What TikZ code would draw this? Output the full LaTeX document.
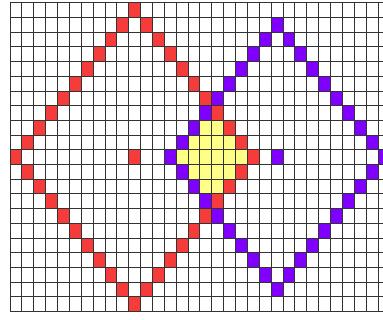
\documentclass[tikz,border=0pt]{standalone}
\usepackage{tikz}
\definecolor{dred}{HTML}{F63B3B}
\definecolor{dpur}{HTML}{7F00FF}
\definecolor{dyel}{HTML}{FFFF88}
\definecolor{gridc}{HTML}{333333}
\tikzset{
  gridline/.style={draw=gridc, line width=0.9pt},
  redcell/.style={fill=dred},
  purcell/.style={fill=dpur},
  yelcell/.style={fill=dyel},
}
\newcommand{\cw}{11.87}
\newcommand{\ch}{14.71}
\newcommand{\gx}{10}
\newcommand{\gy}{2.7}
\newcommand{\cellat}[3]{\fill[#1] ({\gx+\cw*#2},{\gy+\ch*#3}) rectangle ++(\cw,\ch);}
\begin{document}
\begin{tikzpicture}[x=1pt,y=-1pt]
\useasboundingbox (0,0) rectangle (383,320);
\clip (0,0) rectangle (383,320);
\fill[white] (0,0) rectangle (383,320);
\foreach \x in {0,...,31}{
  \foreach \y in {0,...,20}{
    \pgfmathtruncatemacro\da{abs(\x-10)+abs(\y-10)}
    \pgfmathtruncatemacro\db{abs(\x-22)+abs(\y-10)}
    \ifnum\da<10 \ifnum\db<9 \cellat{yelcell}{\x}{\y}\fi\fi
    \ifnum\da=10 \cellat{redcell}{\x}{\y}\fi
    \ifnum\db=9 \cellat{purcell}{\x}{\y}\fi
  }
}
\cellat{redcell}{10}{10}
\cellat{purcell}{22}{10}
\foreach \i in {0,...,32}{
  \draw[gridline] ({\gx+\cw*\i},{\gy}) -- ({\gx+\cw*\i},{\gy+\ch*21});
}
\foreach \j in {0,...,21}{
  \draw[gridline] ({\gx},{\gy+\ch*\j}) -- ({\gx+\cw*32},{\gy+\ch*\j});
}
\end{tikzpicture}
\end{document}
